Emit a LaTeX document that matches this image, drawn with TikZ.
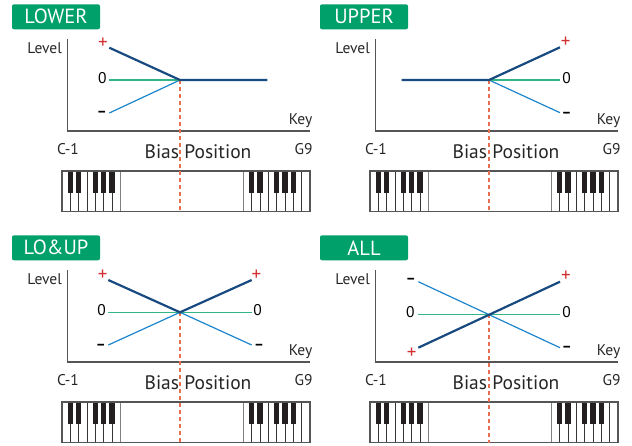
\documentclass[tikz,border=0pt]{standalone}
\usepackage{fontspec}
\setmainfont{PT Sans}
\usepackage{tikz}
\usetikzlibrary{positioning}
\usepackage{xcolor}

\definecolor{tagGreen}{RGB}{0,160,106}
\definecolor{levelNavy}{RGB}{24,74,128}
\definecolor{levelBlue}{RGB}{28,134,204}
\definecolor{levelGreen}{RGB}{50,182,134}
\definecolor{signRed}{RGB}{210,48,48}
\definecolor{biasOrange}{RGB}{232,112,78}
\definecolor{axisGray}{RGB}{85,85,85}
\definecolor{keyBlack}{RGB}{35,31,32}

% frame of one panel: #1,#2 shift, #3 title, #4 prefix
\newcommand\biasframe[4]{%
  \begin{scope}[shift={(#1,#2)}]
    % --- Title tag ---
    \node[tag] (#4-tag) at (56,16.8) {#3};
    % --- Axes ---
    \draw[axisline] (67.7,39.3) -- (67.7,131) -- (310,131);
    \node[axislbl, anchor=base east] (#4-level) at (62,53.3) {Level};
    \node[axislbl, anchor=base] (#4-key) at (300.5,124.3) {Key};
    \node[axislbl, anchor=base] (#4-low) at (68,154) {C-1};
    \node[axislbl, anchor=base] (#4-high) at (303.5,154) {G9};
    \node[biaslbl, anchor=base] (#4-bias) at (198,158.3) {Bias Position};
    % --- Keyboard ---
    \fill[white] (62,171) rectangle (310,211.7);
    \foreach \k in {1,...,6} \draw[keyline] (62+\k*8.33,171) -- (62+\k*8.33,211.7);
    \foreach \k in {1,...,7} \draw[keyline] (243.3+\k*8.33,171) -- (243.3+\k*8.33,211.7);
    \draw[keyline, gray] (120.3,171) -- (120.3,211.7);
    \draw[keyline, gray] (243.3,171) -- (243.3,211.7);
    \foreach \k in {1,2,4,5,6} {
      \fill[keyBlack] (62+\k*8.33-2.6,171) rectangle (62+\k*8.33+2.6,192.5);
      \fill[keyBlack] (243.3+\k*8.33-2.6,171) rectangle (243.3+\k*8.33+2.6,192.5);
    }
    \draw[axisGray, line width=1.3pt] (62,171) rectangle (310,211.7);
  \end{scope}}

\begin{document}
\begin{tikzpicture}[x=1pt, y=-1pt,
    tag/.style={fill=tagGreen, rounded corners=2pt, text=white, minimum width=88pt,
      minimum height=25pt, inner sep=0pt, font=\fontsize{20.5}{20}\selectfont},
    axisline/.style={draw=axisGray, line width=1.2pt},
    axislbl/.style={inner sep=0pt, text=black!85, font=\fontsize{15.5}{15}\selectfont},
    biaslbl/.style={inner sep=0pt, text=black!85, font=\fontsize{19.5}{20}\selectfont},
    keyline/.style={draw=keyBlack!90, line width=0.8pt},
    sign/.style={inner sep=0pt, font=\fontsize{15.5}{15}\selectfont},
    plus/.style={sign, text=signRed, font=\fontsize{19}{19}\selectfont},
    minus/.style={sign, text=black, font=\fontsize{15}{15}\bfseries},
    hiline/.style={levelNavy, line width=2.2pt},
    midline/.style={levelGreen, line width=1.4pt},
    loline/.style={levelBlue, line width=1.2pt},
    biasline/.style={biasOrange, line width=1.1pt, dash pattern=on 4pt off 3pt}]
    \useasboundingbox (0,0) rectangle (632,445);

    % --- Frames ---
    \biasframe{0}{0}{LOWER}{lw}
    \biasframe{308}{0}{UPPER}{up}
    \biasframe{0}{231}{LO\&UP}{lu}
    \biasframe{308}{231}{ALL}{al}

    % --- LOWER ---
    \coordinate (lw-x) at (180,80);
    \coordinate (lw-hi) at (109.3,47.7);
    \coordinate (lw-mid) at (109.3,80);
    \coordinate (lw-lo) at (109.3,113);
    \coordinate (lw-end) at (267.3,80);
    \coordinate (lw-foot) at (180,211.7);
    \draw[biasline] (lw-x) -- (lw-foot);
    \draw[loline] (lw-lo) -- (lw-x);
    \draw[midline] (lw-mid) -- (lw-x);
    \draw[hiline] (lw-hi) -- (lw-x) -- (lw-end);
    \node[plus] (lw-p) at (103,43.3) {+};
    \node[sign, anchor=base] (lw-z) at (102.3,83.3) {0};
    \node[minus] (lw-m) at (101.8,114.3) {–};

    % --- UPPER ---
    \coordinate (up-x) at (489,80);
    \coordinate (up-start) at (401.7,80);
    \coordinate (up-hi) at (560,47.3);
    \coordinate (up-mid) at (560,80);
    \coordinate (up-lo) at (560,112.7);
    \coordinate (up-foot) at (489,211.7);
    \draw[biasline] (up-x) -- (up-foot);
    \draw[loline] (up-x) -- (up-lo);
    \draw[midline] (up-x) -- (up-mid);
    \draw[hiline] (up-start) -- (up-x) -- (up-hi);
    \node[plus] (up-p) at (565.7,42.7) {+};
    \node[sign, anchor=base] (up-z) at (566.5,83.3) {0};
    \node[minus] (up-m) at (566.5,115) {–};

    % --- LO&UP ---
    \coordinate (lu-x) at (180,312.3);
    \coordinate (lu-hl) at (108.3,280);
    \coordinate (lu-ml) at (108.3,312.3);
    \coordinate (lu-ll) at (108.3,345);
    \coordinate (lu-hr) at (251.7,280);
    \coordinate (lu-mr) at (251.7,312.3);
    \coordinate (lu-lr) at (251.7,345);
    \coordinate (lu-foot) at (180,442.7);
    \draw[biasline] (lu-x) -- (lu-foot);
    \draw[loline] (lu-ll) -- (lu-x) -- (lu-lr);
    \draw[midline] (lu-ml) -- (lu-mr);
    \draw[hiline] (lu-hl) -- (lu-x) -- (lu-hr);
    \node[plus] (lu-pl) at (102.7,275) {+};
    \node[plus] (lu-pr) at (256.5,275) {+};
    \node[sign, anchor=base] (lu-zl) at (101.7,315.7) {0};
    \node[sign, anchor=base] (lu-zr) at (257.5,315.7) {0};
    \node[minus] (lu-ml-s) at (100.8,346.7) {–};
    \node[minus] (lu-mr-s) at (259,346.7) {–};

    % --- ALL ---
    \coordinate (al-x) at (489,314.3);
    \coordinate (al-tl) at (418.3,281.7);
    \coordinate (al-ml) at (418.3,314.3);
    \coordinate (al-bl) at (418.3,347.7);
    \coordinate (al-tr) at (560,281.7);
    \coordinate (al-mr) at (560,314.3);
    \coordinate (al-br) at (560,347.7);
    \coordinate (al-foot) at (489,442.7);
    \draw[biasline] (al-x) -- (al-foot);
    \draw[loline] (al-tl) -- (al-br);
    \draw[midline] (al-ml) -- (al-mr);
    \draw[hiline] (al-bl) -- (al-tr);
    \node[minus] (al-mt) at (410.7,281) {–};
    \node[sign, anchor=base] (al-zl) at (410.3,317.3) {0};
    \node[plus] (al-pb) at (411.7,353.3) {+};
    \node[plus] (al-pt) at (566,276.7) {+};
    \node[sign, anchor=base] (al-zr) at (566.7,317.3) {0};
    \node[minus] (al-mb) at (566.7,349) {–};
\end{tikzpicture}
\end{document}
